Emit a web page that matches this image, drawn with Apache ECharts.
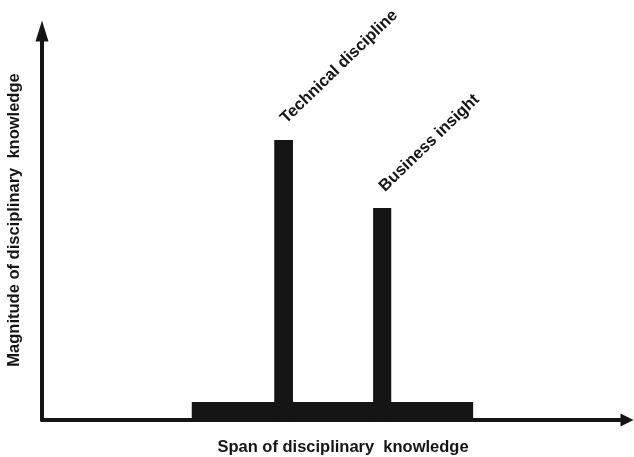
<!DOCTYPE html>
<html>
<head>
<meta charset="utf-8">
<script src="https://cdn.jsdelivr.net/npm/echarts@6/dist/echarts.min.js"></script>
<style>html,body{margin:0;padding:0;background:#fff}#c{width:634px;height:457px}</style>
</head>
<body>
<div id="c"></div>
<script>
// Data (abstract units: span 0-100, magnitude 0-100)
var barNames = ['', 'Technical discipline', 'Business insight'];
var barStart = [25.6, 39.7, 56.6];
var barEnd   = [73.7, 42.9, 59.7];
var barHeight = [4.6, 72.0, 54.5];
var xTitle = 'Span of disciplinary  knowledge';
var yTitle = 'Magnitude of disciplinary  knowledge';

var FONT = '"Liberation Sans", Arial, sans-serif';
var INK = '#151515';

var data = barNames.map(function (n, i) {
  return { name: n, value: [barStart[i], barEnd[i], barHeight[i]] };
});

var chart = echarts.init(document.getElementById('c'));
chart.setOption({
  animation: false,
  backgroundColor: '#fff',
  grid: { left: 42, right: 7, top: 31, bottom: 37, containLabel: false, outerBoundsMode: 'none' },
  xAxis: {
    type: 'value', min: 0, max: 100,
    name: xTitle, nameLocation: 'middle', nameGap: 19,
    nameTextStyle: { fontFamily: FONT, fontWeight: 'bold', fontSize: 16.5, color: INK, padding: [0, 0, 0, 17] },
    axisLine: { show: true, symbol: ['none', 'triangle'], symbolSize: [13, 13], lineStyle: { color: INK, width: 4 } },
    axisTick: { show: false }, axisLabel: { show: false }, splitLine: { show: false }
  },
  yAxis: {
    type: 'value', min: 0, max: 100,
    name: yTitle, nameLocation: 'middle', nameGap: 19,
    nameTextStyle: { fontFamily: FONT, fontWeight: 'bold', fontSize: 16.5, color: INK, padding: [0, 0, 0, 11] },
    axisLine: { show: true, symbol: ['none', 'triangle'], symbolSize: [13, 21], lineStyle: { color: INK, width: 4 } },
    axisTick: { show: false }, axisLabel: { show: false }, splitLine: { show: false }
  },
  series: [{
    type: 'custom',
    data: data,
    renderItem: function (params, api) {
      var x0 = api.value(0), x1 = api.value(1), h = api.value(2);
      var p0 = api.coord([x0, h]);
      var p1 = api.coord([x1, 0]);
      var children = [{
        type: 'rect',
        shape: { x: p0[0], y: p0[1], width: p1[0] - p0[0], height: p1[1] - p0[1] },
        style: { fill: INK }
      }];
      var name = barNames[params.dataIndex];
      if (name) {
        var cx = (p0[0] + p1[0]) / 2;
        children.push({
          type: 'text',
          x: cx + 5.5, y: p0[1] - 13,
          rotation: 44 * Math.PI / 180,
          style: {
            text: name, fill: INK,
            font: 'bold 16.5px ' + FONT,
            align: 'left', verticalAlign: 'bottom'
          }
        });
      }
      return { type: 'group', children: children };
    }
  }]
});
</script>
</body>
</html>
